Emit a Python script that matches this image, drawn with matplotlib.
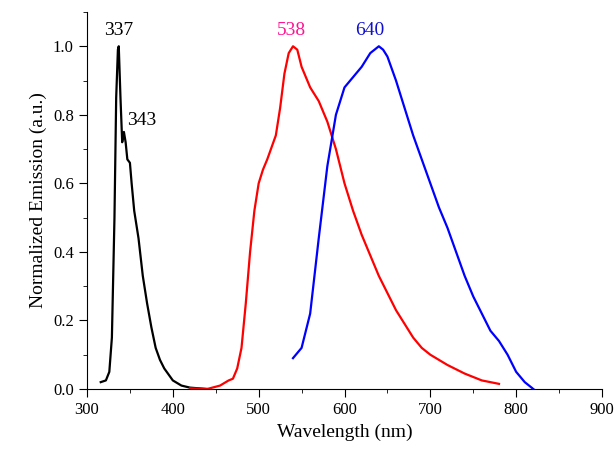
import matplotlib
matplotlib.use("Agg")
import matplotlib.pyplot as plt
from matplotlib.ticker import MultipleLocator

plt.rcParams['font.family'] = ['Liberation Serif']

bx = [316,322,326,329,332,334,336,337,339,341,343,345,347,350,352,355,360,365,370,375,380,385,390,400,410,420,440]
by = [0.02,0.025,0.05,0.15,0.5,0.85,0.99,1.0,0.85,0.72,0.75,0.72,0.67,0.66,0.6,0.52,0.44,0.33,0.25,0.18,0.12,0.085,0.06,0.025,0.01,0.004,0.0]
rx = [420,440,455,465,470,475,480,485,490,495,500,505,510,520,525,530,535,540,545,550,555,560,570,580,590,600,610,620,630,640,650,660,670,680,690,700,720,740,760,780]
ry = [0.002,0.0,0.01,0.025,0.03,0.06,0.12,0.25,0.4,0.52,0.6,0.64,0.67,0.74,0.82,0.92,0.98,1.0,0.99,0.94,0.91,0.88,0.84,0.78,0.7,0.6,0.52,0.45,0.39,0.33,0.28,0.23,0.19,0.15,0.12,0.1,0.07,0.045,0.025,0.015]
ux = [540,550,560,570,580,590,600,610,620,630,640,645,650,660,670,680,690,700,710,720,730,740,750,760,770,780,790,800,810,820]
uy = [0.09,0.12,0.22,0.44,0.65,0.8,0.88,0.91,0.94,0.98,1.0,0.99,0.97,0.9,0.82,0.74,0.67,0.6,0.53,0.47,0.4,0.33,0.27,0.22,0.17,0.14,0.1,0.05,0.02,0.0]

fig = plt.figure(figsize=(6.15,4.49), dpi=100)
ax = fig.add_axes([87/615, 1-389/449, (602-87)/615, (389-12)/449])
ax.plot(bx, by, color='black', lw=1.6)
ax.plot(rx, ry, color='red', lw=1.6)
ax.plot(ux, uy, color='blue', lw=1.6)
ax.set_xlim(300, 900)
ax.set_ylim(0, 1.1)
ax.xaxis.set_major_locator(MultipleLocator(100))
ax.xaxis.set_minor_locator(MultipleLocator(50))
ax.yaxis.set_major_locator(MultipleLocator(0.2))
ax.yaxis.set_minor_locator(MultipleLocator(0.1))
ax.yaxis.set_major_formatter(matplotlib.ticker.FormatStrFormatter('%.1f'))
for s in ['top','right']:
    ax.spines[s].set_visible(False)
ax.tick_params(labelsize=12, direction='out')
ax.tick_params(which='major', length=6)
ax.tick_params(which='minor', length=3)
ax.set_xlabel('Wavelength (nm)', fontsize=14)
ax.set_ylabel('Normalized Emission (a.u.)', fontsize=14)
ax.text(337, 1.02, '337', fontsize=14, ha='center', va='bottom')
ax.text(347, 0.76, '343', fontsize=14, ha='left', va='bottom')
ax.text(538, 1.02, '538', fontsize=14, ha='center', va='bottom', color='#ff1493')
ax.text(630, 1.02, '640', fontsize=14, ha='center', va='bottom', color='#1010cc')
fig.savefig('out.png')
